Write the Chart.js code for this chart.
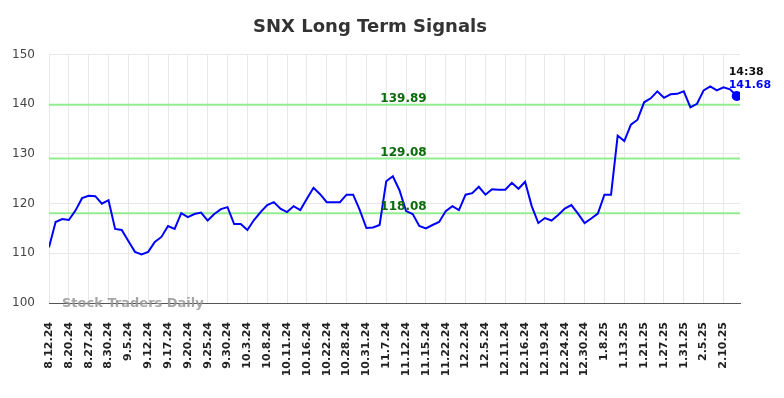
<!DOCTYPE html>
<html>
<head>
<meta charset="utf-8">
<script src="https://cdn.jsdelivr.net/npm/chart.js@4.4.1/dist/chart.umd.min.js"></script>
<style>
  html, body { margin: 0; padding: 0; background: #fff; }
</style>
</head>
<body>
<canvas id="snxChart" width="784" height="398"></canvas>
<script>
const tickLabels = ['8.12.24', '8.20.24', '8.27.24', '8.30.24', '9.5.24', '9.12.24', '9.17.24', '9.20.24',
    '9.25.24', '9.30.24', '10.3.24', '10.8.24', '10.11.24', '10.16.24', '10.22.24', '10.28.24', '10.31.24',
    '11.7.24', '11.12.24', '11.15.24', '11.22.24', '12.2.24', '12.5.24', '12.11.24', '12.16.24', '12.19.24',
    '12.24.24', '12.30.24', '1.8.25', '1.13.25', '1.21.25', '1.27.25', '1.31.25', '2.5.25', '2.10.25'];

// one label every 3 points
const prices = [111.2, 116.3, 116.9, 116.7, 118.6, 121.1, 121.6, 121.5, 120.0, 120.7,
    114.9, 114.7, 112.5, 110.3, 109.8, 110.3, 112.3, 113.3, 115.5, 114.9,
    118.1, 117.3, 117.9, 118.2, 116.6, 117.9, 118.9, 119.3, 115.9, 115.9,
    114.7, 116.7, 118.3, 119.7, 120.3, 119.0, 118.3, 119.5, 118.7, 121.0,
    123.2, 121.9, 120.3, 120.3, 120.3, 121.8, 121.8, 118.7, 115.1, 115.2,
    115.7, 124.5, 125.5, 122.7, 118.5, 117.9, 115.5, 115.0, 115.7, 116.3,
    118.5, 119.5, 118.7, 121.8, 122.1, 123.4, 121.8, 122.9, 122.8, 122.8,
    124.2, 123.0, 124.4, 119.5, 116.1, 117.1, 116.6, 117.7, 119.0, 119.7,
    118.0, 116.1, 117.0, 118.0, 121.8, 121.8, 133.7, 132.6, 135.9, 136.9,
    140.4, 141.2, 142.6, 141.3, 142.0, 142.1, 142.6, 139.4, 140.1, 142.8,
    143.6, 142.8, 143.4, 143.0, 141.68];

const signalLevels = [139.89, 129.08, 118.08];
const lastTime = '14:38';
const yMin = 100, yMax = 150, yStep = 10;
const xMax = prices.length - 0.5;
const lastIdx = prices.length - 1;

const overlay = {
    id: 'overlay',
    beforeDatasetsDraw(chart) {
        const ctx = chart.ctx;
        ctx.save();
        ctx.font = 'bold 13px "DejaVu Sans"';
        ctx.fillStyle = 'rgba(150,150,150,0.85)';
        ctx.textBaseline = 'alphabetic';
        ctx.fillText('Stock Traders Daily', chart.chartArea.left + 13, chart.chartArea.bottom + 4);
        ctx.restore();
    },
    afterDatasetsDraw(chart) {
        const { ctx, chartArea } = chart;
        const y = chart.scales.y;
        ctx.save();
        ctx.font = 'bold 12px "DejaVu Sans"';
        ctx.fillStyle = '#0b6b0b';
        ctx.textAlign = 'center';
        ctx.textBaseline = 'alphabetic';
        const cx = (chartArea.left + chartArea.right) / 2 + 9;
        signalLevels.forEach(v => ctx.fillText(v.toFixed(2), cx, y.getPixelForValue(v) - 3));

        const pt = chart.getDatasetMeta(0).data[lastIdx];
        ctx.textAlign = 'left';
        ctx.font = 'bold 11px "DejaVu Sans"';
        ctx.fillStyle = '#111';
        ctx.fillText(lastTime, pt.x - 8, pt.y - 21);
        ctx.fillStyle = '#0000ff';
        ctx.fillText(prices[lastIdx].toFixed(2), pt.x - 8, pt.y - 8);
        ctx.restore();
    }
};

const datasets = [{
    data: prices.map((v, i) => ({ x: i, y: v })),
    borderColor: '#0000ff',
    backgroundColor: '#0000ff',
    borderWidth: 2,
    tension: 0,
    pointRadius: ctx => ctx.dataIndex === lastIdx ? 4 : 0,
    pointHoverRadius: 0,
    order: 0
}];
signalLevels.forEach(v => {
    datasets.push({
        data: [{ x: 0, y: v }, { x: xMax, y: v }],
        borderColor: '#90ee90',
        borderWidth: 2,
        pointRadius: 0,
        order: 1
    });
});

new Chart(document.getElementById('snxChart'), {
    type: 'line',
    data: { datasets: datasets },
    plugins: [overlay],
    options: {
        responsive: false,
        animation: false,
        layout: { padding: { left: 0, right: 44, top: 0, bottom: 0 } },
        plugins: {
            legend: { display: false },
            tooltip: { enabled: false },
            title: {
                display: true,
                text: 'SNX Long Term Signals',
                color: '#333',
                font: { family: 'DejaVu Sans', size: 18, weight: 'bold' },
                padding: { top: 17, bottom: 16 }
            }
        },
        scales: {
            x: {
                type: 'linear',
                min: 0,
                max: xMax,
                afterFit: s => { s.height = 95; },
                afterBuildTicks: s => { s.ticks = tickLabels.map((t, i) => ({ value: i * 3 })); },
                grid: { color: '#e8e8e8', drawTicks: false },
                border: { display: true, color: '#555', width: 1 },
                ticks: {
                    autoSkip: false,
                    minRotation: 90,
                    maxRotation: 90,
                    padding: 19,
                    color: '#222',
                    font: { family: 'DejaVu Sans', size: 11, weight: 'bold' },
                    callback: v => tickLabels[Math.round(v / 3)]
                }
            },
            y: {
                min: yMin,
                max: yMax,
                afterFit: s => { s.width = 49; },
                grid: { color: '#e8e8e8', drawTicks: false },
                border: { display: false },
                ticks: {
                    stepSize: yStep,
                    padding: 14,
                    color: '#444',
                    font: { family: 'DejaVu Sans', size: 12 }
                }
            }
        }
    }
});
</script>
</body>
</html>
